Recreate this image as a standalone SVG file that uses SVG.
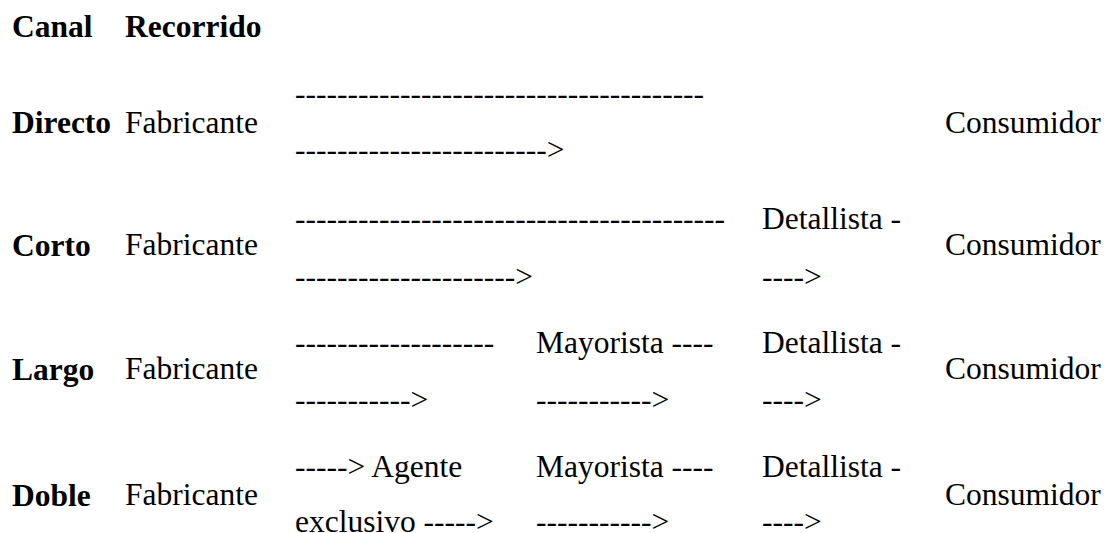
<svg xmlns="http://www.w3.org/2000/svg" width="1113" height="533" viewBox="0 0 1113 533" font-family="'Liberation Serif', 'Times New Roman', Tinos, serif">
  <style>
    text { font-family: "Liberation Serif", "Times New Roman", Tinos, serif; font-size: 31.5px; fill: #000; }
    .b { font-weight: bold; }
  </style>
  <rect width="1113" height="533" fill="#fff"/>

  <!-- column headings -->
  <g id="header">
    <text class="b" x="12" y="37">Canal</text>
    <text class="b" x="125" y="37">Recorrido</text>
  </g>

  <!-- channel: direct -->
  <g id="row-directo">
    <text class="b" x="12" y="133">Directo</text>
    <text x="125" y="133">Fabricante</text>
    <text x="295" y="104">---------------------------------------</text>
    <text x="295" y="160">------------------------&gt;</text>
    <text x="945" y="133">Consumidor</text>
  </g>

  <!-- channel: short -->
  <g id="row-corto">
    <text class="b" x="12" y="256">Corto</text>
    <text x="125" y="255">Fabricante</text>
    <text x="295" y="229">-----------------------------------------</text>
    <text x="295" y="287">---------------------&gt;</text>
    <text x="762" y="229">Detallista -</text>
    <text x="762" y="287">----&gt;</text>
    <text x="945" y="255">Consumidor</text>
  </g>

  <!-- channel: long -->
  <g id="row-largo">
    <text class="b" x="12" y="380">Largo</text>
    <text x="125" y="379">Fabricante</text>
    <text x="295" y="353">-------------------</text>
    <text x="295" y="410">-----------&gt;</text>
    <text x="536" y="353">Mayorista ----</text>
    <text x="536" y="410">-----------&gt;</text>
    <text x="762" y="353">Detallista -</text>
    <text x="762" y="410">----&gt;</text>
    <text x="945" y="379">Consumidor</text>
  </g>

  <!-- channel: double -->
  <g id="row-doble">
    <text class="b" x="12" y="506">Doble</text>
    <text x="125" y="505">Fabricante</text>
    <text x="295" y="477">-----&gt; Agente</text>
    <text x="295" y="532">exclusivo -----&gt;</text>
    <text x="536" y="477">Mayorista ----</text>
    <text x="536" y="532">-----------&gt;</text>
    <text x="762" y="477">Detallista -</text>
    <text x="762" y="532">----&gt;</text>
    <text x="945" y="505">Consumidor</text>
  </g>

  <!-- the arrows are typed as dashes within the text rows, so this group stays empty -->
  <g id="connectors"/>
</svg>
